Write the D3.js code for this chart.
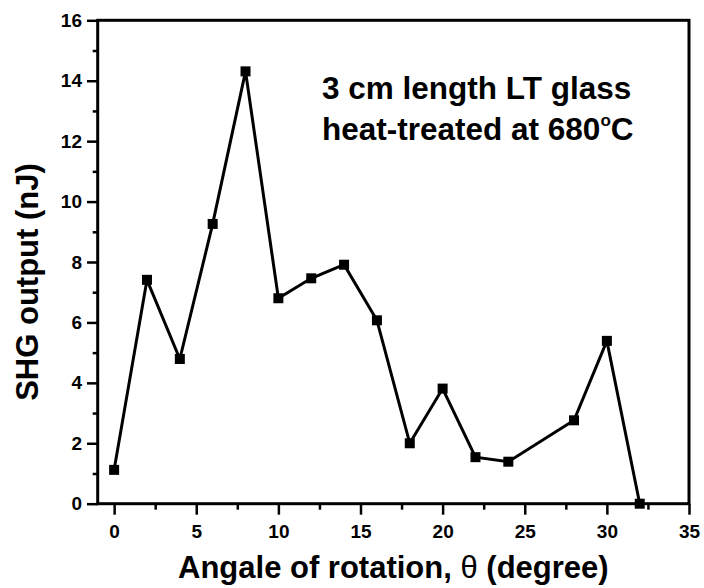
<!DOCTYPE html>
<html>
<head>
<meta charset="utf-8">
<script src="https://cdn.jsdelivr.net/npm/d3@7"></script>
<style>
  body { margin: 0; background: #fff; }
  svg { display: block; }
  text { font-family: "Liberation Sans", Arial, sans-serif; font-weight: bold; fill: #000; }
</style>
</head>
<body>
<svg id="chart" width="704" height="588"></svg>
<script>
const angles = [0, 2, 4, 6, 8, 10, 12, 14, 16, 18, 20, 22, 24, 28, 30, 32];
const shgOutput = [1.12, 7.41, 4.79, 9.26, 14.31, 6.80, 7.46, 7.91, 6.07, 2.00, 3.81, 1.54, 1.39, 2.76, 5.39, 0.0];
const xTicks = [0, 5, 10, 15, 20, 25, 30, 35];
const xMinorTicks = [2.5, 7.5, 12.5, 17.5, 22.5, 27.5, 32.5];
const yTicks = [0, 2, 4, 6, 8, 10, 12, 14, 16];
const yMinorTicks = [1, 3, 5, 7, 9, 11, 13, 15];
const xTitle = "Angale of rotation, ";
const yTitle = "SHG output (nJ)";
const noteLine1 = "3 cm length LT glass";
const noteLine2 = "heat-treated at 680";

const svg = d3.select("#chart");
const mLeft = 97.7, mRight = 689, mTop = 20.3, mBottom = 503.7;
const x = d3.scaleLinear().domain([-1, 35]).range([mLeft, mRight]);
const y = d3.scaleLinear().domain([0, 16]).range([mBottom, mTop]);

// frame
svg.append("rect")
  .attr("x", mLeft).attr("y", mTop)
  .attr("width", mRight - mLeft).attr("height", mBottom - mTop)
  .attr("fill", "none").attr("stroke", "#000").attr("stroke-width", 3);

// x axis
const xAxis = svg.append("g").attr("transform", `translate(0,${mBottom})`);
xAxis.call(d3.axisBottom(x).tickValues(xTicks).tickSize(11).tickPadding(10).tickFormat(d3.format("d")));
xAxis.append("g").call(d3.axisBottom(x).tickValues(xMinorTicks).tickSize(6).tickFormat(""));
xAxis.selectAll(".domain").remove();
xAxis.selectAll("line").attr("stroke", "#000").attr("stroke-width", 2.5);
xAxis.selectAll("text").style("font-size", "19px").attr("font-family", null);

// y axis
const yAxis = svg.append("g").attr("transform", `translate(${mLeft},0)`);
yAxis.call(d3.axisLeft(y).tickValues(yTicks).tickSize(10.7).tickPadding(5).tickFormat(d3.format("d")));
yAxis.append("g").call(d3.axisLeft(y).tickValues(yMinorTicks).tickSize(5).tickFormat(""));
yAxis.selectAll(".domain").remove();
yAxis.selectAll("line").attr("stroke", "#000").attr("stroke-width", 2.5);
yAxis.selectAll("text").style("font-size", "19px").attr("font-family", null);

// line
const line = d3.line().x((d, i) => x(angles[i])).y(d => y(d));
svg.append("path").datum(shgOutput)
  .attr("d", line).attr("fill", "none").attr("stroke", "#000").attr("stroke-width", 3)
  .attr("stroke-linejoin", "miter");

// markers
const ms = 10;
svg.selectAll("rect.pt").data(shgOutput).enter().append("rect")
  .attr("class", "pt")
  .attr("x", (d, i) => x(angles[i]) - ms / 2)
  .attr("y", d => y(d) - ms / 2)
  .attr("width", ms).attr("height", ms).attr("fill", "#000");

// annotation
svg.append("text").attr("x", 322).attr("y", 99).style("font-size", "31.5px").text(noteLine1);
const t2 = svg.append("text").attr("x", 322).attr("y", 140).style("font-size", "31.5px");
t2.append("tspan").text(noteLine2);
t2.append("tspan").attr("dy", -14).style("font-size", "17px").text("o");
t2.append("tspan").attr("dy", 14).text("C");

// x title
const xt = svg.append("text").attr("x", (mLeft + mRight) / 2).attr("y", 578)
  .attr("text-anchor", "middle").style("font-size", "31px");
xt.append("tspan").text(xTitle);
xt.append("tspan").style("font-weight", "normal").text("θ");
xt.append("tspan").text(" (degree)");

// y title
svg.append("text").attr("transform", "translate(38,282) rotate(-90)")
  .attr("text-anchor", "middle").style("font-size", "31px").text(yTitle);
</script>
</body>
</html>
